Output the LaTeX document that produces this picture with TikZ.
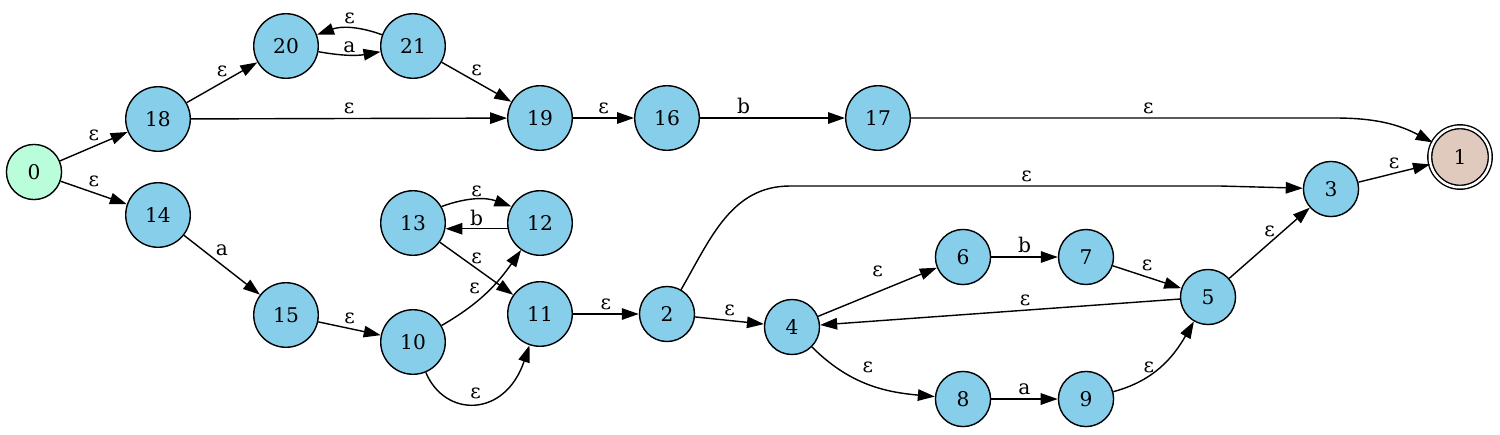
\documentclass[tikz,border=0pt]{standalone}
\usepackage{fontspec}
\setmainfont{DejaVu Serif}
\usetikzlibrary{arrows.meta}
\definecolor{stblue}{HTML}{87CEEB}
\definecolor{stgreen}{HTML}{BAFDDA}
\definecolor{stfinal}{HTML}{E0CABE}

\begin{document}
\begin{tikzpicture}[x=0.02cm,y=-0.02cm,font=\fontsize{11.5}{13}\selectfont,
  st/.style={circle,draw,fill=stblue,line width=0.8pt,minimum size=1.1cm,inner sep=0.25cm},
  tr/.style={-{Triangle[length=0.34cm,width=0.23cm]},line width=0.8pt},
  lab/.style={inner sep=1pt}]
  \useasboundingbox (0,0) rectangle (1500,434);
  % states
  \foreach \n/\x/\y in {18/158/119,14/158/215,20/286/46,21/413/46,19/540/118,16/667/118,
    17/878/118,3/1331/189,13/413/223,12/540/223,15/286/315,10/413/342,11/540/314,
    2/667/314,4/792/327,6/963/257,7/1086/257,5/1208/297,8/963/399,9/1086/399}
    \node[st] (s\n) at (\x,\y) {\n};
  \node[st,fill=stgreen] (s0) at (34,172) {0};
  \node[st,fill=stfinal,minimum size=1.21cm,double,double distance=0.05cm] (s1) at (1460,157) {1};
  % transitions
  \draw[tr] (s0) -- node[lab,above=2pt] {ε} (s18);
  \draw[tr] (s0) -- node[lab,above=2pt] {ε} (s14);
  \draw[tr] (s18) -- node[lab,above=2pt] {ε} (s20);
  \draw[tr] (s18) -- node[lab,above=1pt] {ε} (s19);
  \draw[tr] (s20.-10) to[bend right=10] node[lab,above] {a} (s21.190);
  \draw[tr] (s21.160) to[bend right=20] node[lab,above=1pt] {ε} (s20.20);
  \draw[tr] (s21) -- node[lab,above=2pt] {ε} (s19);
  \draw[tr] (s19) -- node[lab,above=1pt] {ε} (s16);
  \draw[tr] (s16) -- node[lab,above=1pt,pos=.3] {b} (s17);
  \draw[tr] (s17) -- node[lab,above=1pt,pos=.56] {ε} (1335,118) to[out=0,in=152] (s1);
  \draw[tr] (s14) -- node[lab,above=4pt] {a} (s15);
  \draw[tr] (s15) -- node[lab,above=1pt] {ε} (s10);
  \draw[tr] (s10) to[out=30,in=235] node[lab,above left,pos=.45] {ε} (s12);
  \draw[tr] (s10) .. controls (445,418) and (505,418) .. node[lab,above=1pt] {ε} (s11);
  \draw[tr] (s13.30) to[bend left=20] node[lab,above] {ε} (s12.150);
  \draw[tr] (s12.190) -- node[lab,above] {b} (s13.350);
  \draw[tr] (s13) -- node[lab,above=1pt] {ε} (s11);
  \draw[tr] (s11) -- node[lab,above=1pt] {ε} (s2);
  \draw[tr] (s2) -- node[lab,above=1pt] {ε} (s4);
  \draw[tr] (s2) to[out=60,in=180] (790,186) -- node[lab,above=1pt,pos=.55] {ε} (1220,186) -- (s3);
  \draw[tr] (s4) -- node[lab,above=7pt] {ε} (s6);
  \draw[tr] (s4) to[out=-45,in=175] node[lab,above=5pt] {ε} (s8);
  \draw[tr] (s6) -- node[lab,above=1pt] {b} (s7);
  \draw[tr] (s8) -- node[lab,above=1pt] {a} (s9);
  \draw[tr] (s7) -- node[lab,above=2pt] {ε} (s5);
  \draw[tr] (s9) to[out=15,in=-120] node[lab,above,pos=.35] {ε} (s5);
  \draw[tr] (s5) -- node[lab,above=1pt,pos=.43] {ε} (s4);
  \draw[tr] (s5) -- node[lab,above=2pt] {ε} (s3);
  \draw[tr] (s3) -- node[lab,above=1pt] {ε} (s1);
\end{tikzpicture}
\end{document}
